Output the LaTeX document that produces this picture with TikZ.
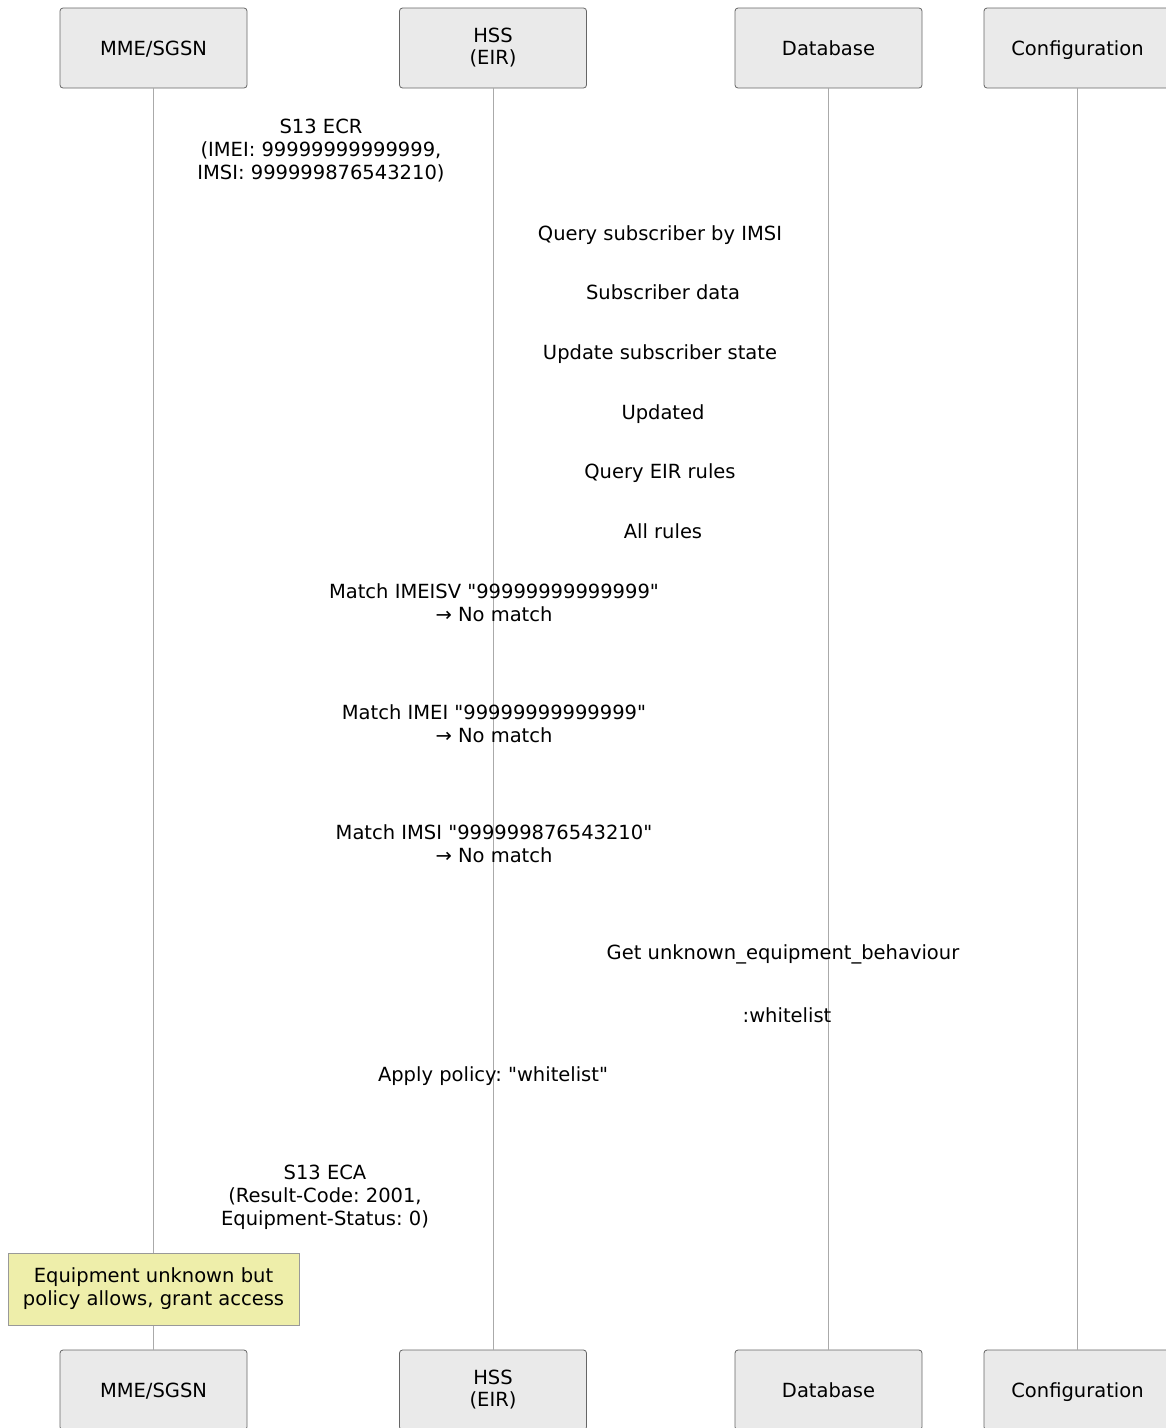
\documentclass[tikz,border=0pt]{standalone}
\usepackage{fontspec}
\setmainfont{DejaVu Sans}[Ligatures=TeXOff]
\usepackage{xcolor}
\usepackage{tikz}
\usetikzlibrary{positioning,calc}
\definecolor{boxfill}{HTML}{EAEAEA}
\definecolor{boxline}{HTML}{666666}
\definecolor{lifeline}{HTML}{AAAAAA}
\definecolor{notefill}{HTML}{EEEEAA}
\definecolor{noteline}{HTML}{999999}
\frenchspacing

\begin{document}
\begin{tikzpicture}[x=1pt, y=-1pt, every node/.style={font=\fontsize{19.5}{23}\selectfont, align=center, inner sep=0pt}, actor/.style={draw=boxline, fill=boxfill, rounded corners=3pt, minimum width=187pt, minimum height=80pt, line width=0.8pt}, oneline/.style={text height=14pt, text depth=0pt}, twoline/.style={text depth=3pt}, life/.style={draw=lifeline, line width=1pt}, msg/.style={anchor=base}, note/.style={draw=noteline, fill=notefill, minimum width=291pt, minimum height=72pt, line width=0.8pt}]
\useasboundingbox (0,0) rectangle (1166,1428);
% participants, top and bottom
\node[actor, oneline] (mme) at (153.5,48) {MME/SGSN};
\node[actor, twoline] (hss) at (493,48) {HSS\\[-1pt](EIR)};
\node[actor, oneline] (db) at (828.5,48) {Database};
\node[actor, oneline] (cfg) at (1077.5,48) {Configuration};
\node[actor, oneline] (mmeB) at (153.5,1390) {MME/SGSN};
\node[actor, twoline] (hssB) at (493,1390) {HSS\\[-1pt](EIR)};
\node[actor, oneline] (dbB) at (828.5,1390) {Database};
\node[actor, oneline] (cfgB) at (1077.5,1390) {Configuration};
% lifelines
\draw[life] (mme) -- (mmeB);
\draw[life] (hss) -- (hssB);
\draw[life] (db) -- (dbB);
\draw[life] (cfg) -- (cfgB);
% messages (anchored at the baseline of the last line)
\node[msg] (ecr) at (321,179) {S13 ECR\\(IMEI: 99999999999999,\\IMSI: 999999876543210)};
\node[msg] (qsub) at (660,240) {Query subscriber by IMSI};
\node[msg] (sdata) at (663,299) {Subscriber data};
\node[msg] (upd) at (660,359) {Update subscriber state};
\node[msg] (updd) at (663,419) {Updated};
\node[msg] (qrules) at (660,478) {Query EIR rules};
\node[msg] (allr) at (663,538) {All rules};
\node[msg] (mimeisv) at (494,621) {Match IMEISV "99999999999999"\\→ No match};
\node[msg] (mimei) at (494,742) {Match IMEI "99999999999999"\\→ No match};
\node[msg] (mimsi) at (494,862) {Match IMSI "999999876543210"\\→ No match};
\node[msg] (getub) at (783,959) {Get unknown\_equipment\_behaviour};
\node[msg] (wl) at (787,1022) {:whitelist};
\node[msg] (apply) at (493,1081) {Apply policy: "whitelist"};
\node[msg] (eca) at (325,1225) {S13 ECA\\(Result-Code: 2001,\\Equipment-Status: 0)};
% note over MME/SGSN
\node[note] (grant) at (153.5,1289) {Equipment unknown but\\policy allows, grant access};
\end{tikzpicture}
\end{document}
